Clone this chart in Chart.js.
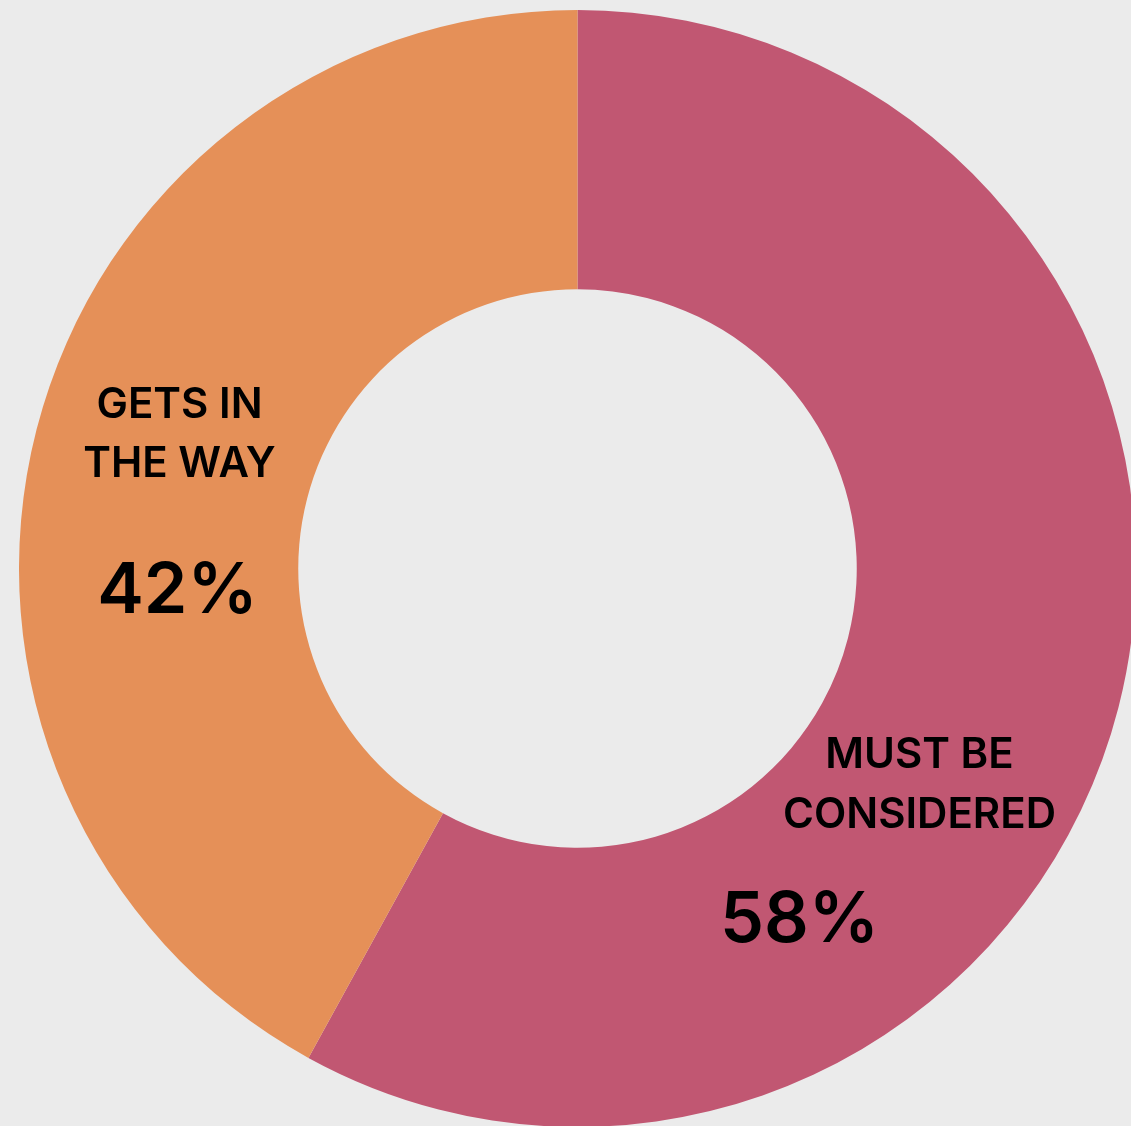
<!DOCTYPE html>
<html>
<head>
<meta charset="utf-8">
<script src="https://cdn.jsdelivr.net/npm/chart.js@4/dist/chart.umd.min.js"></script>
<style>
  html, body { margin: 0; padding: 0; background: #ebebeb; overflow: hidden; }
  body { width: 1131px; height: 1126px; position: relative; }
  #donut { position: absolute; left: 19px; top: 10px; }
</style>
</head>
<body>
<canvas id="donut" width="1117" height="1117"></canvas>
<script>
  const categorias = ["MUST BE CONSIDERED", "GETS IN THE WAY"];
  const valores = [58, 42];
  const colores = ["#c15772", "#e59058"];
  // Texto de cada etiqueta, una línea por elemento
  const etiquetas = [
    ["MUST BE", "CONSIDERED"],
    ["GETS IN", "THE WAY"]
  ];

  // Posición de las etiquetas, relativa al centro (en fracción del radio exterior)
  const posEtiquetas = [
    { x: 342, xPct: 222, lineas: [199.5, 259.5], pct: 373.5 },
    { x: -398, xPct: -400, lineas: [-150.5, -91.5], pct: 44.5 }
  ];

  const etiquetasPlugin = {
    id: "etiquetas",
    afterDraw(chart) {
      const ctx = chart.ctx;
      const arc = chart.getDatasetMeta(0).data[0];
      const cx = arc.x, cy = arc.y, R = arc.outerRadius;
      const k = R / 558.5;
      ctx.save();
      ctx.fillStyle = "#000";
      ctx.textAlign = "center";
      ctx.textBaseline = "alphabetic";
      posEtiquetas.forEach((p, i) => {
        ctx.font = "600 " + Math.round(42 * k) + "px Inter";
        etiquetas[i].forEach((txt, j) => {
          ctx.fillText(txt, cx + p.x * k, cy + p.lineas[j] * k);
        });
        ctx.font = "600 " + Math.round(70 * k) + "px Inter";
        ctx.fillText(valores[i] + "%", cx + p.xPct * k, cy + p.pct * k);
      });
      ctx.restore();
    }
  };

  new Chart(document.getElementById("donut"), {
    type: "doughnut",
    data: {
      labels: categorias,
      datasets: [{
        data: valores,
        backgroundColor: colores,
        borderWidth: 0
      }]
    },
    options: {
      responsive: false,
      animation: false,
      cutout: "50%",
      layout: { padding: 0 },
      plugins: {
        legend: { display: false },
        tooltip: { enabled: false }
      }
    },
    plugins: [etiquetasPlugin]
  });
</script>
</body>
</html>
